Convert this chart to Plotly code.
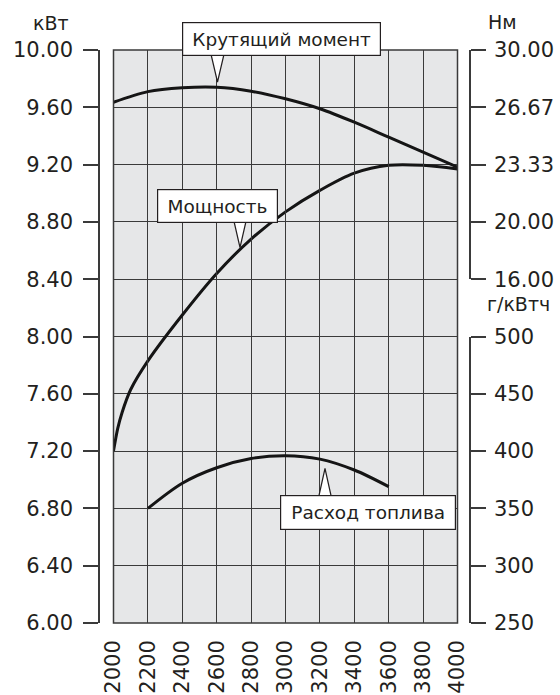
import plotly.graph_objects as go

# engine speed, rpm
rpm = [2000, 2200, 2400, 2600, 2800, 3000, 3200, 3400, 3600, 3800, 4000]

# torque, Nm (right upper axis)
torque_nm = [26.96, 27.58, 27.80, 27.83, 27.60, 27.16, 26.58, 25.80, 24.93, 24.06, 23.19]

# power, kW (left axis)
power_rpm = [2000, 2025, 2050, 2100, 2200, 2400, 2600, 2800, 3000, 3200, 3400, 3600, 3800, 4000]
power_kw = [7.20, 7.36, 7.47, 7.63, 7.83, 8.15, 8.44, 8.68, 8.87, 9.02, 9.14, 9.195, 9.195, 9.17]

# specific fuel consumption, g/kWh (right lower axis)
fuel_rpm = [2200, 2400, 2600, 2800, 3000, 3200, 3400, 3600]
fuel_g = [350, 372, 385.5, 393.5, 396, 393, 383.5, 369]

kw_ticks = [6.0, 6.4, 6.8, 7.2, 7.6, 8.0, 8.4, 8.8, 9.2, 9.6, 10.0]
nm_ticks = [50 / 3, 20, 70 / 3, 80 / 3, 30]
nm_text = ['16.00', '20.00', '23.33', '26.67', '30.00']
fuel_ticks = [250, 300, 350, 400, 450, 500]

INK = '#231f20'
GRID = '#3a3a3a'
FONT = 'DejaVu Sans'

fig = go.Figure()

curve = dict(color='#151515', width=3, shape='spline', smoothing=0.9)

fig.add_trace(go.Scatter(x=power_rpm, y=power_kw, mode='lines', line=curve,
                         xaxis='x', yaxis='y', showlegend=False, hoverinfo='skip'))
fig.add_trace(go.Scatter(x=rpm, y=torque_nm, mode='lines', line=curve,
                         xaxis='x', yaxis='y2', showlegend=False, hoverinfo='skip'))
fig.add_trace(go.Scatter(x=fuel_rpm, y=fuel_g, mode='lines', line=curve,
                         xaxis='x', yaxis='y3', showlegend=False, hoverinfo='skip'))

W, H = 560, 695
L, R, T, B = 99, 90, 50, 72
area_w = W - L - R
area_h = H - T - B
x_dom = [(113.5 - L) / area_w, (457.5 - L) / area_w]


def px(sx):
    # pixel x -> paper x
    return (sx - L) / area_w


def py(sy):
    # pixel y -> paper y
    return (H - B - sy) / area_h


tickfont = dict(family=FONT, size=21, color=INK)
side_axis = dict(showline=True, linecolor=GRID, linewidth=1.5,
                 ticks='outside', ticklen=15, tickwidth=1.5, tickcolor=GRID,
                 tickfont=tickfont, zeroline=False, anchor='free', automargin=False)

fig.update_layout(
    width=W, height=H,
    margin=dict(l=L, r=R, t=T, b=B),
    paper_bgcolor='white', plot_bgcolor='rgba(0,0,0,0)',
    xaxis=dict(domain=x_dom, range=[2000, 4000], tickvals=rpm, tickangle=-90,
               tickfont=tickfont, showgrid=True, gridcolor=GRID, gridwidth=1.3,
               zeroline=False, showline=False, ticks='', ticklabelstandoff=12,
               automargin=False),
    yaxis=dict(domain=[0, 1], range=[6, 10], tickvals=kw_ticks, tickformat='.2f',
               position=0, side='left', showgrid=True, gridcolor=GRID, gridwidth=1.3,
               ticklabelstandoff=6, **side_axis),
    yaxis2=dict(domain=[0.6, 1], range=[50 / 3, 30], tickvals=nm_ticks, ticktext=nm_text,
                position=1, side='right', showgrid=False, ticklabelstandoff=4, **side_axis),
    yaxis3=dict(domain=[0, 0.5], range=[250, 500], tickvals=fuel_ticks,
                position=1, side='right', showgrid=False, ticklabelstandoff=4, **side_axis),
)

# grey plot background and border
fig.add_shape(type='rect', xref='x domain', yref='y domain', x0=0, x1=1, y0=0, y1=1,
              fillcolor='#e6e7e8', line_width=0, layer='below')
fig.add_shape(type='rect', xref='x domain', yref='y domain', x0=0, x1=1, y0=0, y1=1,
              fillcolor='rgba(0,0,0,0)', line=dict(color=GRID, width=1.5), layer='above')

# axis unit titles
unit_font = dict(family=FONT, size=19, color=INK)
fig.add_annotation(text='кВт', xref='paper', yref='paper', x=px(51), y=py(23),
                   showarrow=False, font=unit_font, xanchor='center', yanchor='middle')
fig.add_annotation(text='Нм', xref='paper', yref='paper', x=px(486), y=py(22),
                   showarrow=False, font=unit_font, xanchor='left', yanchor='middle')
fig.add_annotation(text='г/кВтч', xref='paper', yref='paper', x=px(485), y=py(304),
                   showarrow=False, font=unit_font, xanchor='left', yanchor='middle')


# callouts: pointer triangle (shape) under a white label box (annotation), pixel positions
def callout(text, left, top, right, bottom, tri_x0, tri_x1, tri_y, tip_x, tip_y):
    fig.add_shape(type='path', xref='paper', yref='paper',
                  path=(f'M {px(tri_x0)},{py(tri_y)} L {px(tip_x)},{py(tip_y)} '
                        f'L {px(tri_x1)},{py(tri_y)} Z'),
                  fillcolor='white', line=dict(color=INK, width=1.2), layer='above')
    pad = 5
    fig.add_annotation(text=text, x=px(left), y=py(top), xref='paper', yref='paper',
                       xanchor='left', yanchor='top', showarrow=False,
                       width=right - left - 2 * pad - 2, height=bottom - top - 2 * pad - 2,
                       align='center', valign='middle',
                       font=dict(family=FONT, size=18.5, color=INK),
                       bgcolor='white', bordercolor=INK, borderwidth=1.2, borderpad=pad)


callout('Крутящий момент', 182, 22, 381, 56, 210, 225, 50, 217.5, 82)
callout('Мощность', 157, 188.5, 277.5, 222.5, 233, 247, 217, 240, 247.5)
callout('Расход топлива', 280, 495, 456, 530, 318, 332, 500, 325, 468.5)

fig.write_html('out.html', config={'displayModeBar': False},
               post_script="document.body.style.margin='0';"
                           "document.body.style.overflow='hidden';")
